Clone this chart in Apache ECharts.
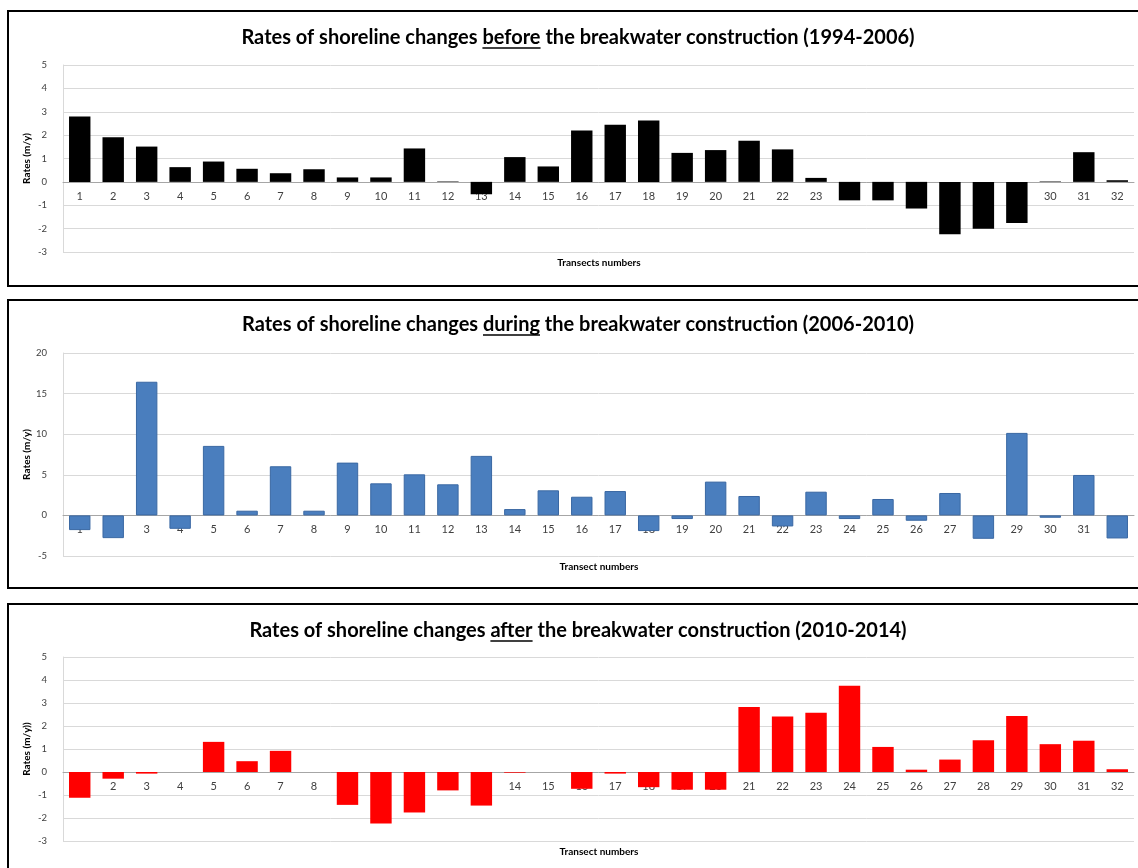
<!DOCTYPE html>
<html>
<head>
<meta charset="utf-8">
<script src="https://cdn.jsdelivr.net/npm/echarts@6/dist/echarts.min.js"></script>
<style>
html,body{margin:0;padding:0;background:#fff;}
#c{width:1138px;height:868px;}
</style>
</head>
<body>
<div id="c"></div>
<script>
// ---- data ----
const categories = ['1','2','3','4','5','6','7','8','9','10','11','12','13','14','15','16',
  '17','18','19','20','21','22','23','24','25','26','27','28','29','30','31','32'];
const before = [2.80, 1.91, 1.51, 0.63, 0.87, 0.56, 0.37, 0.54, 0.19, 0.19, 1.43, 0.02, -0.53, 1.06, 0.66, 2.20,
  2.44, 2.63, 1.24, 1.36, 1.76, 1.39, 0.17, -0.79, -0.79, -1.14, -2.24, -2.01, -1.76, 0.02, 1.27, 0.07];
const during = [-1.81, -2.80, 16.46, -1.65, 8.56, 0.58, 6.05, 0.58, 6.50, 3.95, 5.06, 3.83, 7.33, 0.78, 3.09, 2.30,
  3.00, -1.93, -0.45, 4.16, 2.39, -1.36, 2.92, -0.45, 2.02, -0.66, 2.76, -2.88, 10.16, -0.29, 4.98, -2.84];
const after = [-1.12, -0.29, -0.07, 0, 1.31, 0.47, 0.92, 0, -1.43, -2.24, -1.76, -0.80, -1.46, -0.03, 0, -0.73,
  -0.07, -0.66, -0.77, -0.77, 2.83, 2.41, 2.58, 3.75, 1.09, 0.10, 0.54, 1.38, 2.43, 1.21, 1.36, 0.12];
const titles = [
  ['Rates of shoreline changes ', 'before', ' the breakwater construction (1994-2006)'],
  ['Rates of shoreline changes ', 'during', ' the breakwater construction (2006-2010)'],
  ['Rates of shoreline changes ', 'after', ' the breakwater construction (2010-2014)']
];
const yNames = ['Rates (m/y)', 'Rates (m/y)', 'Rates (m/y))'];
const xNames = ['Transects numbers', 'Transect numbers', 'Transect numbers'];
const yRanges = [[-3, 5, 1], [-5, 20, 5], [-3, 5, 1]];

// ---- layout ----
const panels = [
  {box: [8, 11, 1150, 275], top: 65, height: 187, titleY: 38, xNameY: 263, color: '#000000', border: '#000000', data: before},
  {box: [8, 300, 1150, 288], top: 353, height: 203, titleY: 325, xNameY: 567, color: '#4a7ebe', border: '#3a68a3', data: during},
  {box: [8, 604, 1150, 290], top: 657, height: 184, titleY: 631, xNameY: 852, color: '#ff0000', border: '#ff0000', data: after}
];
const gridLeft = 63, gridRight = 4, titleCX = 578, xNameCX = 599;
const titleFont = 'bold 20px Lato';

const chart = echarts.init(document.getElementById('c'));
const ctx = document.createElement('canvas').getContext('2d');
ctx.font = titleFont;
const mw = t => ctx.measureText(t).width;

const grid = [], xAxis = [], yAxis = [], series = [], graphic = [];
panels.forEach((p, i) => {
  graphic.push({type: 'rect', shape: {x: p.box[0], y: p.box[1], width: p.box[2], height: p.box[3]},
    style: {fill: null, stroke: '#000', lineWidth: 2}, z: 0});
  const t = titles[i];
  const total = mw(t[0]) + mw(t[1]) + mw(t[2]);
  const x0 = titleCX - total / 2;
  graphic.push({type: 'text', x: x0, y: p.titleY,
    style: {text: t[0] + t[1] + t[2], font: titleFont, fill: '#000', textAlign: 'left', textVerticalAlign: 'middle'}});
  const ux = x0 + mw(t[0]);
  graphic.push({type: 'line', shape: {x1: ux, y1: p.titleY + 10, x2: ux + mw(t[1]), y2: p.titleY + 10},
    style: {stroke: '#000', lineWidth: 1.5}});
  graphic.push({type: 'text', x: xNameCX, y: p.xNameY,
    style: {text: xNames[i], font: 'bold 10px Lato', fill: '#000', textAlign: 'center', textVerticalAlign: 'middle'}});

  const r = yRanges[i];
  const zeroOffset = -p.height * (0 - r[0]) / (r[1] - r[0]);
  grid.push({left: gridLeft, right: gridRight, top: p.top, height: p.height, containLabel: false});
  xAxis.push({type: 'category', gridIndex: i, data: categories, position: 'bottom', offset: zeroOffset,
    axisLine: {onZero: false, lineStyle: {color: '#a6a6a6', width: 1}},
    axisTick: {show: false},
    axisLabel: {color: '#404040', fontSize: 11, fontFamily: 'Lato', margin: 9, interval: 0},
    splitLine: {show: false}, z: 1});
  yAxis.push({type: 'value', gridIndex: i, min: r[0], max: r[1], interval: r[2],
    name: yNames[i], nameLocation: 'middle', nameGap: 31, nameRotate: 90, nameMoveOverlap: false,
    nameTextStyle: {color: '#000', fontWeight: 'bold', fontSize: 10, fontFamily: 'Lato'},
    axisLine: {show: true, lineStyle: {color: '#d9d9d9'}},
    axisTick: {show: false},
    axisLabel: {color: '#404040', fontSize: 9.5, fontFamily: 'Lato', margin: 16},
    splitLine: {lineStyle: {color: '#d9d9d9', width: 1}}});
  series.push({type: 'bar', xAxisIndex: i, yAxisIndex: i, data: p.data, barCategoryGap: '36%',
    itemStyle: {color: p.color, borderColor: p.border, borderWidth: i === 1 ? 1 : 0}, z: 3});
});

chart.setOption({animation: false, grid, xAxis, yAxis, series, graphic});
</script>
</body>
</html>
